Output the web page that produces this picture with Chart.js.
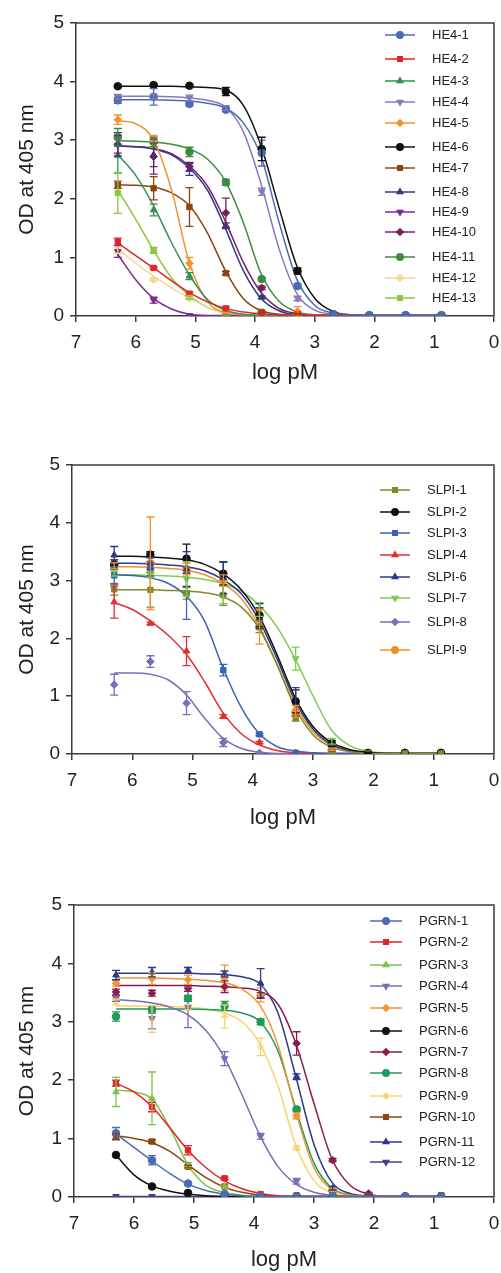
<!DOCTYPE html>
<html lang="en">
<head>
<meta charset="UTF-8">
<title>OD at 405 nm vs log pM</title>
<script src="https://cdn.jsdelivr.net/npm/chart.js"></script>
<style>
  * { margin: 0; padding: 0; box-sizing: border-box; }
  body { width: 501px; height: 1273px; background: #fff; position: relative; overflow: hidden; }
  canvas { position: absolute; left: 0; }
</style>
</head>
<body>
<canvas id="he4" width="501" height="400" style="top:0px"></canvas>
<canvas id="slpi" width="501" height="430" style="top:420px"></canvas>
<canvas id="pgrn" width="501" height="418" style="top:855px"></canvas>

<script>
// x positions of the measured points (log pM) and of the fitted curves
const logPM = [6.30, 5.70, 5.10, 4.49, 3.89, 3.29, 2.69, 2.09, 1.48, 0.88];
const fitX = [6.3, 6.0, 5.7, 5.4, 5.1, 4.8, 4.5, 4.2, 3.9, 3.6, 3.3, 3.0, 2.7, 2.4, 2.1, 1.8, 1.5, 1.2, 0.9];
const xTicks = [7, 6, 5, 4, 3, 2, 1, 0];
const yTicks = [0, 1, 2, 3, 4, 5];

// ---- HE4 ----
const he4Names = ['HE4-1','HE4-2','HE4-3','HE4-4','HE4-5','HE4-6','HE4-7','HE4-8','HE4-9','HE4-10','HE4-11','HE4-12','HE4-13'];
const he4Means = [
  [3.68,3.74,3.62,3.52,2.78,0.51,0.03,0.01,0.01,0.01],
  [1.27,0.82,0.38,0.13,0.05,0.03,0.02,0.01,0.01,0.01],
  [2.74,1.81,0.68,0.05,0.02,0.01,0.01,0.01,0.01,0.01],
  [3.74,3.74,3.72,3.55,2.12,0.30,0.02,0.01,0.01,0.01],
  [3.35,2.98,0.90,0.05,0.02,0.08,0.02,0.01,0.01,0.02],
  [3.92,3.94,3.93,3.83,2.85,0.77,0.03,0.01,0.01,0.01],
  [2.24,2.18,1.86,0.73,0.07,0.03,0.02,0.01,0.01,0.01],
  [2.93,2.75,2.50,1.54,0.32,0.03,0.01,0.01,0.01,0.01],
  [1.10,0.27,0.01,0.01,0.01,0.01,0.01,0.01,0.01,0.01],
  [2.93,2.72,2.55,1.76,0.48,0.03,0.01,0.01,0.01,0.01],
  [3.05,2.97,2.80,2.28,0.63,0.02,0.01,0.01,0.01,0.01],
  [1.12,0.62,0.30,0.02,0.01,0.01,0.01,0.01,0.01,0.02],
  [2.10,1.12,0.32,0.03,0.02,0.01,0.01,0.01,0.01,0.01]
];
const he4Err = [
  [0.05,0.14,0.04,0.03,0.22,0.04,0,0,0,0],
  [0.06,0.02,0.03,0.02,0.02,0.01,0,0,0,0],
  [0.30,0.10,0.06,0.01,0,0,0,0,0,0],
  [0.04,0.04,0.05,0.04,0.06,0.04,0,0,0,0],
  [0.08,0.10,0.10,0.01,0,0.08,0,0,0,0],
  [0.02,0.02,0.02,0.07,0.20,0.05,0,0,0,0],
  [0.06,0.20,0.33,0.03,0.01,0.01,0,0,0,0],
  [0.20,0.20,0.10,0.05,0.02,0,0,0,0,0],
  [0.10,0.05,0,0,0,0,0,0,0,0],
  [0.15,0.30,0.07,0.25,0.03,0,0,0,0,0],
  [0.15,0.08,0.08,0.05,0.02,0,0,0,0,0],
  [0.05,0.03,0.02,0,0,0,0,0,0,0],
  [0.35,0.05,0.03,0,0,0,0,0,0,0]
];
const he4Fit = [
  [3.69,3.69,3.69,3.68,3.67,3.63,3.55,3.30,2.72,1.60,0.62,0.18,0.05,0.02,0.01,0.01,0.01,0.01,0.01],
  [1.25,1.03,0.82,0.60,0.40,0.24,0.13,0.07,0.04,0.02,0.01,0.01,0.01,0.01,0.01,0.01,0.01,0.01,0.01],
  [2.75,2.40,1.88,1.25,0.70,0.28,0.10,0.03,0.01,0.01,0.01,0.01,0.01,0.01,0.01,0.01,0.01,0.01,0.01],
  [3.75,3.75,3.75,3.74,3.72,3.68,3.57,3.15,2.25,1.15,0.38,0.10,0.03,0.01,0.01,0.01,0.01,0.01,0.01],
  [3.33,3.28,3.00,2.15,0.90,0.25,0.06,0.02,0.01,0.01,0.01,0.01,0.01,0.01,0.01,0.01,0.01,0.01,0.01],
  [3.92,3.92,3.92,3.92,3.91,3.90,3.86,3.60,2.90,1.85,0.85,0.30,0.08,0.02,0.01,0.01,0.01,0.01,0.01],
  [2.24,2.23,2.20,2.10,1.88,1.42,0.78,0.30,0.09,0.03,0.01,0.01,0.01,0.01,0.01,0.01,0.01,0.01,0.01],
  [2.90,2.89,2.85,2.75,2.52,2.15,1.50,0.78,0.30,0.09,0.02,0.01,0.01,0.01,0.01,0.01,0.01,0.01,0.01],
  [1.05,0.62,0.30,0.12,0.03,0.01,0.01,0.01,0.01,0.01,0.01,0.01,0.01,0.01,0.01,0.01,0.01,0.01,0.01],
  [2.90,2.89,2.86,2.77,2.56,2.22,1.62,0.92,0.40,0.13,0.04,0.01,0.01,0.01,0.01,0.01,0.01,0.01,0.01],
  [2.99,2.98,2.97,2.93,2.85,2.68,2.30,1.60,0.72,0.25,0.07,0.02,0.01,0.01,0.01,0.01,0.01,0.01,0.01],
  [1.15,0.90,0.68,0.48,0.31,0.15,0.04,0.01,0.01,0.01,0.01,0.01,0.01,0.01,0.01,0.01,0.01,0.01,0.01],
  [2.15,1.65,1.12,0.65,0.35,0.15,0.06,0.02,0.01,0.01,0.01,0.01,0.01,0.01,0.01,0.01,0.01,0.01,0.01]
];

// ---- SLPI ----
const slpiNames = ['SLPI-1','SLPI-2','SLPI-3','SLPI-4','SLPI-6','SLPI-7','SLPI-8','SLPI-9'];
const slpiMeans = [
  [2.85,2.84,2.78,2.75,2.20,0.62,0.05,0.01,0.01,0.01],
  [3.28,3.45,3.38,3.12,2.40,0.91,0.18,0.02,0.02,0.02],
  [3.09,3.20,2.78,1.45,0.34,0.02,0.02,0.01,0.01,0.02],
  [2.63,2.26,1.78,0.65,0.20,0.02,0.01,0.01,0.01,0.01],
  [3.44,3.30,3.20,3.05,2.35,0.90,0.10,0.01,0.01,0.01],
  [3.13,3.10,3.03,2.75,2.50,1.65,0.22,0.02,0.01,0.01],
  [1.20,1.60,0.88,0.20,0.02,0.01,0.01,0.01,0.01,0.01],
  [3.26,3.30,3.20,3.00,2.20,0.74,0.08,0.01,0.01,0.01]
];
const slpiErr = [
  [0.10,0.30,0.10,0.18,0.10,0.05,0.02,0,0,0],
  [0.08,0.05,0.25,0.20,0.20,0.20,0.05,0.01,0,0],
  [0.15,0.12,0.45,0.10,0.02,0,0,0,0,0],
  [0.28,0.02,0.25,0.03,0.02,0,0,0,0,0],
  [0.15,0.10,0.30,0.28,0.18,0.25,0.05,0,0,0],
  [0.05,0.05,0.30,0.15,0.12,0.20,0.05,0,0,0],
  [0.18,0.10,0.20,0.07,0,0,0,0,0,0],
  [0.05,0.80,0.10,0.10,0.30,0.10,0.02,0,0,0]
];
const slpiFit = [
  [2.84,2.84,2.84,2.83,2.82,2.79,2.72,2.55,2.18,1.55,0.80,0.33,0.12,0.04,0.01,0.01,0.01,0.01,0.01],
  [3.42,3.42,3.41,3.39,3.36,3.28,3.12,2.85,2.40,1.72,0.98,0.47,0.20,0.08,0.03,0.01,0.01,0.01,0.01],
  [3.10,3.09,3.05,2.95,2.73,2.30,1.50,0.82,0.36,0.13,0.05,0.02,0.01,0.01,0.01,0.01,0.01,0.01,0.01],
  [2.62,2.50,2.30,2.05,1.72,1.25,0.72,0.36,0.16,0.06,0.02,0.01,0.01,0.01,0.01,0.01,0.01,0.01,0.01],
  [3.30,3.30,3.29,3.27,3.24,3.17,3.02,2.78,2.32,1.65,0.92,0.43,0.17,0.06,0.02,0.01,0.01,0.01,0.01],
  [3.10,3.10,3.09,3.08,3.06,3.02,2.95,2.82,2.58,2.20,1.65,1.00,0.42,0.15,0.05,0.02,0.01,0.01,0.01],
  [1.40,1.40,1.38,1.28,1.02,0.62,0.28,0.10,0.03,0.01,0.01,0.01,0.01,0.01,0.01,0.01,0.01,0.01,0.01],
  [3.24,3.24,3.23,3.21,3.18,3.10,2.95,2.70,2.22,1.55,0.85,0.38,0.15,0.05,0.02,0.01,0.01,0.01,0.01]
];

// ---- PGRN ----
const pgrnNames = ['PGRN-1','PGRN-2','PGRN-3','PGRN-4','PGRN-5','PGRN-6','PGRN-7','PGRN-8','PGRN-9','PGRN-10','PGRN-11','PGRN-12'];
const pgrnMeans = [
  [1.09,0.63,0.23,0.05,0.01,0.01,0.01,0.01,0.01,0.01],
  [1.95,1.54,0.80,0.32,0.05,0.03,0.02,0.02,0.01,0.01],
  [1.80,1.69,0.54,0.18,0.02,0.01,0.01,0.01,0.01,0.01],
  [3.40,3.06,3.25,2.37,1.04,0.27,0.02,0.03,0.02,0.01],
  [3.66,3.74,3.72,3.75,3.46,1.39,0.12,0.01,0.01,0.01],
  [0.72,0.18,0.07,0.01,0.01,0.01,0.01,0.01,0.01,0.01],
  [3.51,3.49,3.57,3.60,3.45,2.63,0.63,0.06,0.01,0.01],
  [3.09,3.20,3.40,3.27,3.00,1.50,0.10,0.02,0.01,0.01],
  [3.34,3.05,3.25,3.09,2.57,0.84,0.05,0.01,0.01,0.01],
  [1.03,0.95,0.52,0.18,0.02,0.01,0.01,0.01,0.01,0.03],
  [3.80,3.85,3.88,3.82,3.66,2.06,0.15,0.02,0.01,0.01],
  [0.01,0.01,0.01,0.01,0.01,0.01,0.01,0.01,0.01,0.01]
];
const pgrnErr = [
  [0.10,0.08,0.02,0.01,0,0,0,0,0,0],
  [0.05,0.08,0.08,0.02,0,0,0,0,0,0],
  [0.25,0.45,0.05,0.02,0,0,0,0,0,0],
  [0.05,0.18,0.35,0.12,0.05,0.05,0,0,0,0],
  [0.05,0.10,0.08,0.22,0.12,0.05,0.02,0,0,0],
  [0,0,0,0,0,0,0,0,0,0],
  [0.05,0.05,0.05,0.10,0.05,0.20,0.03,0.02,0,0],
  [0.08,0.05,0.05,0.08,0.05,0.03,0,0,0,0],
  [0.05,0.23,0.05,0.20,0.15,0.03,0,0,0,0],
  [0.05,0.03,0.02,0,0,0,0,0,0,0],
  [0.08,0.08,0.05,0.05,0.25,0.05,0.03,0,0,0],
  [0,0,0,0,0,0,0,0,0,0]
];
const pgrnFit = [
  [1.08,0.85,0.62,0.40,0.22,0.11,0.05,0.02,0.01,0.01,0.01,0.01,0.01,0.01,0.01,0.01,0.01,0.01,0.01],
  [1.95,1.80,1.55,1.18,0.80,0.50,0.28,0.14,0.06,0.02,0.01,0.01,0.01,0.01,0.01,0.01,0.01,0.01,0.01],
  [1.83,1.80,1.68,1.18,0.55,0.20,0.08,0.03,0.01,0.01,0.01,0.01,0.01,0.01,0.01,0.01,0.01,0.01,0.01],
  [3.38,3.36,3.32,3.25,3.12,2.85,2.40,1.75,1.05,0.52,0.22,0.08,0.03,0.01,0.01,0.01,0.01,0.01,0.01],
  [3.75,3.75,3.75,3.74,3.73,3.71,3.67,3.56,3.28,2.60,1.45,0.50,0.13,0.03,0.01,0.01,0.01,0.01,0.01],
  [0.72,0.38,0.19,0.10,0.05,0.02,0.01,0.01,0.01,0.01,0.01,0.01,0.01,0.01,0.01,0.01,0.01,0.01,0.01],
  [3.62,3.62,3.62,3.62,3.62,3.61,3.60,3.58,3.52,3.30,2.62,1.60,0.65,0.20,0.05,0.01,0.01,0.01,0.01],
  [3.22,3.22,3.22,3.22,3.22,3.21,3.20,3.15,3.00,2.50,1.50,0.58,0.15,0.04,0.01,0.01,0.01,0.01,0.01],
  [3.27,3.27,3.27,3.26,3.25,3.22,3.15,3.00,2.62,1.90,0.88,0.28,0.07,0.02,0.01,0.01,0.01,0.01,0.01],
  [1.05,1.00,0.93,0.78,0.55,0.33,0.17,0.08,0.03,0.01,0.01,0.01,0.01,0.01,0.01,0.01,0.01,0.01,0.01],
  [3.83,3.83,3.83,3.83,3.83,3.82,3.81,3.77,3.65,3.15,2.05,0.90,0.25,0.06,0.02,0.01,0.01,0.01,0.01],
  [0.01,0.01,0.01,0.01,0.01,0.01,0.01,0.01,0.01,0.01,0.01,0.01,0.01,0.01,0.01,0.01,0.01,0.01,0.01]
];

// colour, marker, marker rotation for each series
const he4Styles = [
  ['#4a6cb3','circle',0], ['#e5232a','rect',0], ['#2e9255','triangle',0], ['#8878c0','triangle',180],
  ['#f09433','rectRot',0], ['#111111','circle',0], ['#8b4513','rect',0], ['#2d3a8c','triangle',0],
  ['#7d2a97','triangle',180], ['#7a1f5d','rectRot',0], ['#3d8c40','circle',0], ['#f3d98b','rectRot',0],
  ['#8dc63f','rect',0]
];
const slpiStyles = [
  ['#7f8a2b','rect',0], ['#111111','circle',0], ['#3b62b4','rect',0], ['#e32d36','triangle',0],
  ['#2d3a8c','triangle',0], ['#7ccd4d','triangle',180], ['#7b6db8','rectRot',0], ['#f0902a','circle',0]
];
const pgrnStyles = [
  ['#4a6cb3','circle',0], ['#e5232a','rect',0], ['#7cc449','triangle',0], ['#7c6ab5','triangle',180],
  ['#f0952f','rectRot',0], ['#111111','circle',0], ['#8a1b4d','rectRot',0], ['#1f9a5a','circle',0],
  ['#f7d46b','star',0], ['#8b4513','rect',0], ['#2d3a8c','triangle',0], ['#4b3a8f','triangle',180]
];

const FONT = '"Liberation Sans", Arial, sans-serif';
const AXIS = '#3a3a3a';

// error bars from the err array of each marker dataset
const errorBars = {
  id: 'errorBars',
  afterDatasetsDraw(chart) {
    const {ctx, scales: {x, y}} = chart;
    chart.data.datasets.forEach(ds => {
      if (!ds.err) return;
      ctx.save();
      ctx.strokeStyle = ds.borderColor;
      ctx.lineWidth = 1.3;
      ds.data.forEach((p, j) => {
        const e = ds.err[j];
        if (!e) return;
        const px = x.getPixelForValue(p.x);
        const top = y.getPixelForValue(p.y + e);
        const bot = y.getPixelForValue(Math.max(0, p.y - e));
        ctx.beginPath();
        ctx.moveTo(px, top); ctx.lineTo(px, bot);
        ctx.moveTo(px - 4, top); ctx.lineTo(px + 4, top);
        ctx.moveTo(px - 4, bot); ctx.lineTo(px + 4, bot);
        ctx.stroke();
      });
      ctx.restore();
    });
  }
};

// top and right border of the plot box
const frame = {
  id: 'frame',
  afterDraw(chart) {
    const {ctx, chartArea: a} = chart;
    ctx.save();
    ctx.strokeStyle = AXIS;
    ctx.lineWidth = 1.5;
    ctx.beginPath();
    ctx.moveTo(a.left, a.top); ctx.lineTo(a.right, a.top); ctx.lineTo(a.right, a.bottom);
    ctx.stroke();
    ctx.restore();
  }
};

// legend drawn inside the plot box: line + marker + label
const sideLegend = {
  id: 'sideLegend',
  afterDraw(chart, args, opts) {
    const ctx = chart.ctx;
    const marks = chart.data.datasets.filter(d => d.err);
    ctx.save();
    ctx.font = '13px ' + FONT;
    ctx.textBaseline = 'middle';
    marks.forEach((d, i) => {
      const y = opts.ys[i];
      ctx.strokeStyle = d.borderColor;
      ctx.fillStyle = d.backgroundColor;
      ctx.lineWidth = 1.5;
      ctx.beginPath(); ctx.moveTo(opts.x0, y); ctx.lineTo(opts.x1, y); ctx.stroke();
      Chart.helpers.drawPoint(ctx, {pointStyle: d.pointStyle, rotation: d.pointRotation || 0, radius: 3.2, borderWidth: 1}, (opts.x0 + opts.x1) / 2, y);
      ctx.fillStyle = '#222';
      ctx.fillText(d.label, opts.tx, y);
    });
    ctx.restore();
  }
};

const panels = [
  {id: 'he4', names: he4Names, means: he4Means, err: he4Err, fit: he4Fit, styles: he4Styles,
   top: 0, h: 400, areaTop: 23, areaBottom: 316, areaLeft: 76, titleY: 373,
   legend: {x0: 385, x1: 415, tx: 432, ys: [35,59,81,102,123,147,168,192,212,232,257,278,298]}},
  {id: 'slpi', names: slpiNames, means: slpiMeans, err: slpiErr, fit: slpiFit, styles: slpiStyles,
   top: 420, h: 430, areaTop: 465, areaBottom: 754, areaLeft: 72, titleY: 818,
   legend: {x0: 380, x1: 410, tx: 427, ys: [490,512,533,555,577,598,622,650]}},
  {id: 'pgrn', names: pgrnNames, means: pgrnMeans, err: pgrnErr, fit: pgrnFit, styles: pgrnStyles,
   top: 855, h: 418, areaTop: 905, areaBottom: 1197, areaLeft: 74, titleY: 1261,
   legend: {x0: 370, x1: 402, tx: 419, ys: [921,942,965,986,1008,1031,1052,1073,1096,1117,1142,1162]}}
];

panels.forEach(p => {
  const datasets = [];
  p.names.forEach((name, i) => {
    const [color, shape, rot] = p.styles[i];
    datasets.push({
      label: name + ' fit',
      data: fitX.map((x, j) => ({x: x, y: p.fit[i][j]})),
      showLine: true,
      borderColor: color,
      borderWidth: 1.5,
      pointRadius: 0,
      cubicInterpolationMode: 'monotone',
      fill: false,
      order: 2
    });
    datasets.push({
      label: name,
      data: logPM.map((x, j) => ({x: x, y: p.means[i][j]})),
      err: p.err[i],
      showLine: false,
      pointStyle: shape,
      pointRotation: rot,
      pointRadius: 3.8,
      pointBorderWidth: 1,
      backgroundColor: color,
      borderColor: color,
      order: 1
    });
  });

  const legendLocal = Object.assign({}, p.legend, {ys: p.legend.ys.map(v => v - p.top)});
  const titlePad = p.top + p.h - p.titleY - 13.2;

  new Chart(document.getElementById(p.id), {
    type: 'scatter',
    data: {datasets},
    plugins: [errorBars, frame, sideLegend],
    options: {
      responsive: false,
      animation: false,
      devicePixelRatio: 1,
      layout: {padding: {top: p.areaTop - p.top, right: 7, left: 0, bottom: 0}},
      plugins: {
        legend: {display: false},
        tooltip: {enabled: false},
        sideLegend: legendLocal
      },
      scales: {
        x: {
          type: 'linear', reverse: true, min: 0, max: 7,
          afterBuildTicks: s => { s.ticks = xTicks.map(v => ({value: v})); },
          afterFit: s => {
            s.height = p.top + p.h - p.areaBottom;
            s.paddingRight = 6;
            s.paddingLeft = 0;
          },
          ticks: {font: {family: FONT, size: 19}, color: '#222', padding: 9, maxRotation: 0, autoSkip: false},
          grid: {display: true, drawOnChartArea: false, drawTicks: true, tickLength: 6, color: AXIS, lineWidth: 1.5},
          border: {display: true, color: AXIS, width: 1.5},
          title: {display: true, text: 'log pM', font: {family: FONT, size: 22}, color: '#222', padding: {top: 0, bottom: Math.max(0, titlePad)}}
        },
        y: {
          type: 'linear', min: 0, max: 5,
          afterBuildTicks: s => { s.ticks = yTicks.map(v => ({value: v})); },
          afterFit: s => { s.width = p.areaLeft; },
          ticks: {font: {family: FONT, size: 19}, color: '#222', padding: 6, autoSkip: false},
          grid: {display: true, drawOnChartArea: false, drawTicks: true, tickLength: 6, color: AXIS, lineWidth: 1.5},
          border: {display: true, color: AXIS, width: 1.5},
          title: {display: true, text: 'OD at 405 nm', font: {family: FONT, size: 21}, color: '#222', padding: {top: 15, bottom: 0}}
        }
      }
    }
  });
});
</script>
</body>
</html>
